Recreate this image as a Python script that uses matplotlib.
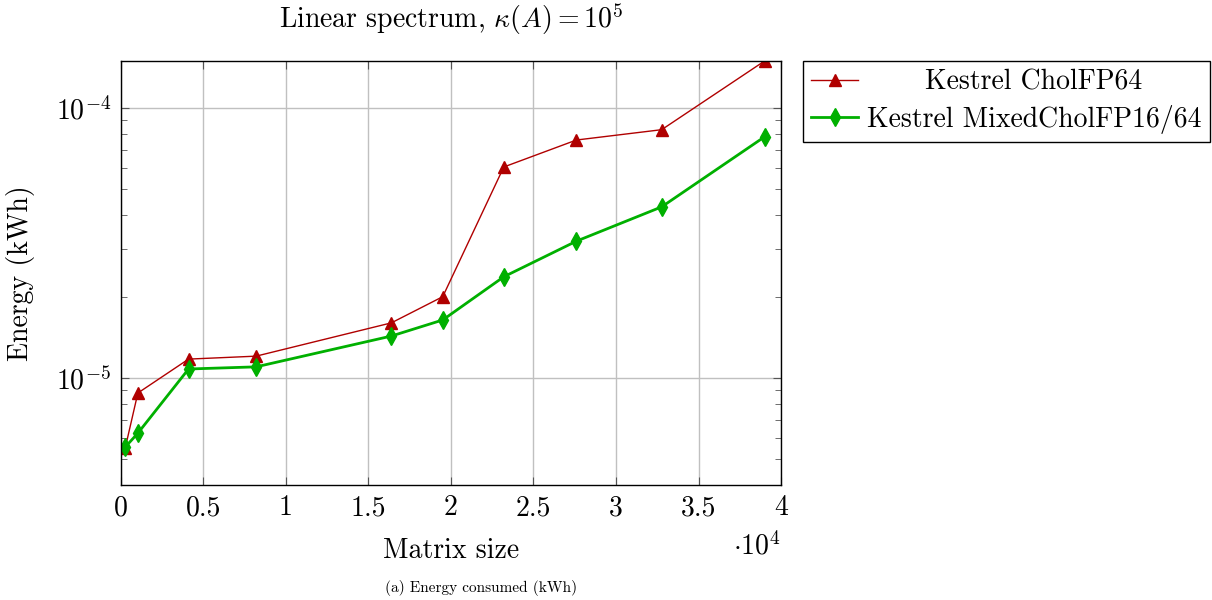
import matplotlib
matplotlib.use("Agg")
import matplotlib.pyplot as plt
from matplotlib.ticker import LogLocator, FixedLocator, FuncFormatter, NullFormatter

plt.rcParams['font.family'] = 'serif'
plt.rcParams['font.serif'] = ['cmr10']
plt.rcParams['mathtext.fontset'] = 'cm'
plt.rcParams['axes.formatter.use_mathtext'] = True

# matrix sizes
sizes = [256, 1024, 4096, 8192, 16384, 19500, 23200, 27600, 32768, 39000]
# energy (kWh)
chol_fp64 = [5.5e-6, 8.8e-6, 1.175e-5, 1.205e-5, 1.6e-5, 2.0e-5, 6.04e-5, 7.6e-5, 8.3e-5, 1.49e-4]
mixed_fp16_64 = [5.55e-6, 6.25e-6, 1.08e-5, 1.10e-5, 1.43e-5, 1.64e-5, 2.37e-5, 3.21e-5, 4.30e-5, 7.81e-5]

labels = ['Kestrel CholFP64', 'Kestrel MixedCholFP16/64']
x_ticks = [0, 0.5, 1, 1.5, 2, 2.5, 3, 3.5, 4]

FS = 20

fig = plt.figure(figsize=(12.12, 6.0), dpi=100)
ax = fig.add_axes([0.0998, 0.1917, 0.5446, 0.7066])

ax.plot(sizes, chol_fp64, color='#b00000', lw=1.0, marker='^', ms=8, label=labels[0])
ax.plot(sizes, mixed_fp16_64, color='#00b000', lw=2.0, marker='d', ms=9, label=labels[1])

ax.set_yscale('log')
ax.set_xlim(0, 40000)
ax.set_ylim(4.02e-6, 1.49e-4)

ax.xaxis.set_major_locator(FixedLocator([t * 1e4 for t in x_ticks]))
ax.xaxis.set_major_formatter(FuncFormatter(lambda v, p: '%g' % (v / 1e4)))
ax.yaxis.set_major_locator(LogLocator(base=10, numticks=10))
ax.yaxis.set_minor_locator(LogLocator(base=10, subs=range(2, 10), numticks=10))
ax.yaxis.set_minor_formatter(NullFormatter())

ax.grid(True, which='major', color='#c0c0c0', lw=1.0)
ax.set_axisbelow(True)
ax.tick_params(which='both', direction='in', top=True, right=True, labelsize=FS)
ax.tick_params(which='major', length=6, width=0.8, color='#555555', pad=7)
ax.tick_params(which='minor', length=4, width=0.6, color='#555555')
for s in ax.spines.values():
    s.set_linewidth(1.0)

ax.set_title(r'Linear spectrum, $\kappa(A) = 10^5$', fontsize=FS, pad=24)
ax.set_xlabel('Matrix size', fontsize=FS, labelpad=12)
ax.set_ylabel('Energy (kWh)', fontsize=FS, labelpad=15)
ax.text(1.0, -0.145, r'$\cdot 10^4$', transform=ax.transAxes, ha='right', va='center', fontsize=FS)
fig.text(0.397, 0.014, '(a) Energy consumed (kWh)', ha='center', fontsize=11)

leg = ax.legend(loc='upper left', bbox_to_anchor=(1.033, 1.0), fontsize=FS,
                frameon=True, fancybox=False, edgecolor='black', framealpha=1,
                handlelength=1.7, handletextpad=0.3, borderaxespad=0, labelspacing=0.33,
                borderpad=0.3)
leg.get_frame().set_linewidth(1.0)

# centre the shorter legend entry like pgfplots does
fig.canvas.draw()
r = fig.canvas.get_renderer()
texts = leg.get_texts()
w0 = texts[0].get_window_extent(r).width
w1 = texts[1].get_window_extent(r).width
texts[0].set_x((w1 - w0) / 2)

fig.savefig('out.png', dpi=100)
